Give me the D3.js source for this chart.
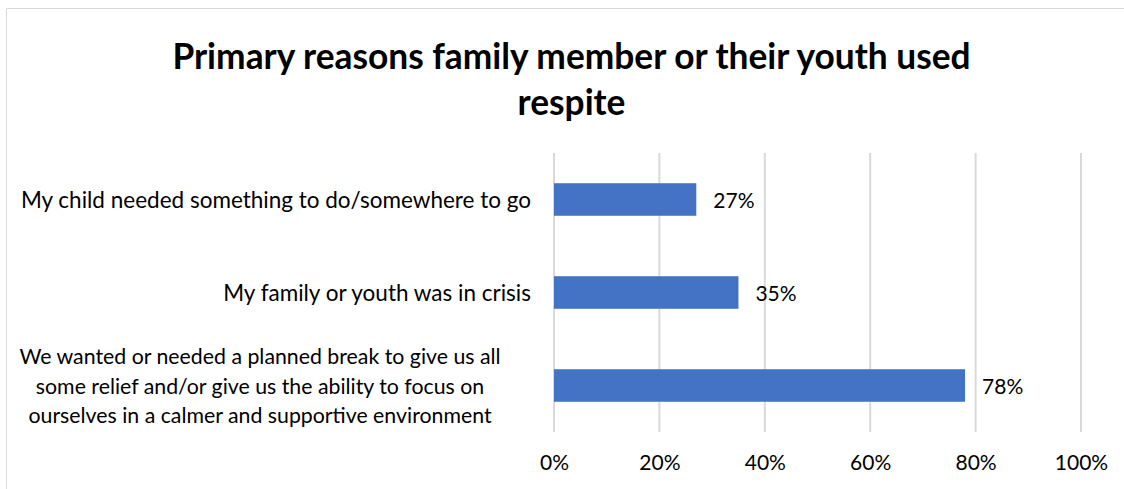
<!DOCTYPE html>
<html>
<head>
<meta charset="utf-8">
<script src="https://cdn.jsdelivr.net/npm/d3@7"></script>
<style>
  html, body { margin: 0; padding: 0; background: #fff; }
  svg { display: block; }
  text { font-family: Lato, "Open Sans", sans-serif; fill: #000; }
</style>
</head>
<body>
<svg id="chart" width="1124" height="489"></svg>
<script>
// Survey results: why families used respite
const titleLines = ["Primary reasons family member or their youth used", "respite"];
const categories = [
  "My child needed something to do/somewhere to go",
  "My family or youth was in crisis",
  "We wanted or needed a planned break to give us all some relief and/or give us the ability to focus on ourselves in a calmer and supportive environment"
];
const categoryLines = [
  ["My child needed something to do/somewhere to go"],
  ["My family or youth was in crisis"],
  ["We wanted or needed a planned break to give us all",
   "some relief and/or give us the ability to focus on",
   "ourselves in a calmer and supportive environment"]
];
const values = [0.27, 0.35, 0.78];
const tickValues = [0, 0.2, 0.4, 0.6, 0.8, 1.0];

const svg = d3.select("#chart");
const W = 1124, H = 489;

// chart frame
svg.append("rect").attr("x", 0).attr("y", 0).attr("width", W).attr("height", H).attr("fill", "#fff");
svg.append("path")
  .attr("d", `M6.5,${H} V8.5 H${W}`)
  .attr("fill", "none").attr("stroke", "#d9d9d9").attr("stroke-width", 1);

// title
const title = svg.append("text")
  .attr("text-anchor", "middle")
  .style("font-weight", "bold")
  .style("font-size", "35.3px");
titleLines.forEach((t, i) => {
  title.append("tspan").attr("x", 571.5).attr("y", 69 + i * 46).text(t);
});

// plot area
const plot = { left: 554, right: 1081, top: 153, bottom: 432 };

const x = d3.scaleLinear().domain([0, 1]).range([plot.left, plot.right]);
const y = d3.scaleBand().domain(categories).range([plot.top, plot.bottom]).paddingInner(0.65).paddingOuter(0.325);

// vertical gridlines
svg.append("g").selectAll("line").data(tickValues).join("line")
  .attr("x1", d => x(d)).attr("x2", d => x(d))
  .attr("y1", plot.top).attr("y2", plot.bottom)
  .attr("stroke", "#d9d9d9").attr("stroke-width", 2);

// x axis tick labels
const xAxis = d3.axisBottom(x).tickValues(tickValues).tickFormat(d3.format(".0%")).tickSize(0).tickPadding(0);
const gx = svg.append("g").attr("transform", `translate(0,${plot.bottom})`).call(xAxis);
gx.select(".domain").remove();
gx.selectAll("text")
  .attr("y", 38).attr("dy", null)
  .style("font-size", "21px").style("font-family", "Lato, sans-serif").attr("fill", "#000");

// bars
svg.append("g").selectAll("rect").data(values).join("rect")
  .attr("x", x(0))
  .attr("y", (d, i) => y(categories[i]))
  .attr("width", d => x(d) - x(0))
  .attr("height", y.bandwidth())
  .attr("fill", "#4472c4");

// value labels
svg.append("g").selectAll("text").data(values).join("text")
  .attr("x", d => x(d) + 17)
  .attr("y", (d, i) => y(categories[i]) + y.bandwidth() / 2 + 8)
  .style("font-size", "21px")
  .text(d => d3.format(".0%")(d));

// category labels: single lines sit against the axis, wrapped ones are centred
const catG = svg.append("g");
categoryLines.forEach((lines, i) => {
  const cy = y(categories[i]) + y.bandwidth() / 2;
  const lh = 29.3;
  const t = catG.append("text");
  if (lines.length === 1) {
    t.attr("text-anchor", "end").style("font-size", "22.5px")
      .append("tspan").attr("x", 531).attr("y", cy + 8).text(lines[0]);
  } else {
    t.attr("text-anchor", "middle").style("font-size", "21.3px");
    lines.forEach((ln, j) => {
      t.append("tspan").attr("x", 260)
        .attr("y", cy + 8 + (j - (lines.length - 1) / 2) * lh).text(ln);
    });
  }
});
</script>
</body>
</html>
